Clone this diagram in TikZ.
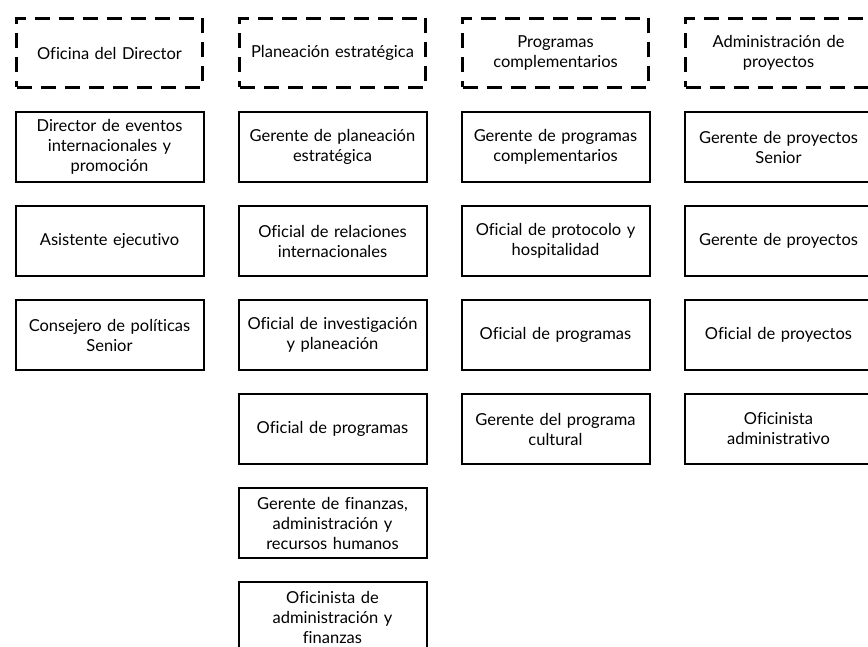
\documentclass[tikz,border=0pt]{standalone}
\usepackage{fontspec}
\setmainfont{Lato}[Ligatures=NoCommon]
\usetikzlibrary{positioning}
\newlength{\lw}
\setlength{\lw}{2pt}
\tikzstyle{every picture}+=[x=1pt,y=1pt]
\tikzstyle{every picture}+=[join=miter]
\tikzstyle{every picture}+=[node distance=22pt]
\tikzstyle{every node}+=[font=\fontsize{16.5pt}{20pt}\selectfont]
\tikzstyle{unit}=[draw, line width=1.5\lw, dash pattern=on 15pt off 9pt]
\tikzstyle{unit}+=[minimum width=186pt, minimum height=69pt]
\tikzstyle{unit}+=[align=center, text width=176pt, inner sep=0pt]
\tikzstyle{post}=[draw, line width=\lw]
\tikzstyle{post}+=[minimum width=188pt, minimum height=70pt]
\tikzstyle{post}+=[align=center, text width=178pt, inner sep=0pt]
\begin{document}
\begin{tikzpicture}
\useasboundingbox (0,0) rectangle (868,-647);
\clip (0,0) rectangle (868,-647);

% areas
\node[unit] (oficina) at (109.5,-53) {Oficina del Director};
\node[unit] (plan) [right=34pt of oficina] {Planeación estratégica};
\node[unit] (compl) [right=34pt of plan] {Programas\\complementarios};
\node[unit] (proy) [right=34pt of compl] {Administración de\\proyectos};

% Oficina del Director
\node[post] (director) [below=of oficina] {Director de eventos\\internacionales y\\promoción};
\node[post] (asistente) [below=of director] {Asistente ejecutivo};
\node[post] (consejero) [below=of asistente] {Consejero de políticas\\Senior};

% Planeacion estrategica
\node[post] (gplan) [below=of plan] {Gerente de planeación\\estratégica};
\node[post] (relint) [below=of gplan] {Oficial de relaciones\\internacionales};
\node[post] (invest) [below=of relint] {Oficial de investigación\\y planeación};
\node[post] (ofprog) [below=of invest] {Oficial de programas};
\node[post] (finanzas) [below=of ofprog] {Gerente de finanzas,\\administración y\\recursos humanos};
\node[post] (ofinanz) [below=of finanzas] {Oficinista de\\administración y\\finanzas};

% Programas complementarios
\node[post] (gcompl) [below=of compl] {Gerente de programas\\complementarios};
\node[post] (protocolo) [below=of gcompl] {Oficial de protocolo y\\hospitalidad};
\node[post] (ofprog2) [below=of protocolo] {Oficial de programas};
\node[post] (cultural) [below=of ofprog2] {Gerente del programa\\cultural};

% Administracion de proyectos
\node[post] (senior) [below=of proy] {Gerente de proyectos\\Senior};
\node[post] (gproy) [below=of senior] {Gerente de proyectos};
\node[post] (ofproy) [below=of gproy] {Oficial de proyectos};
\node[post] (ofadm) [below=of ofproy] {Oficinista\\administrativo};
\end{tikzpicture}
\end{document}
